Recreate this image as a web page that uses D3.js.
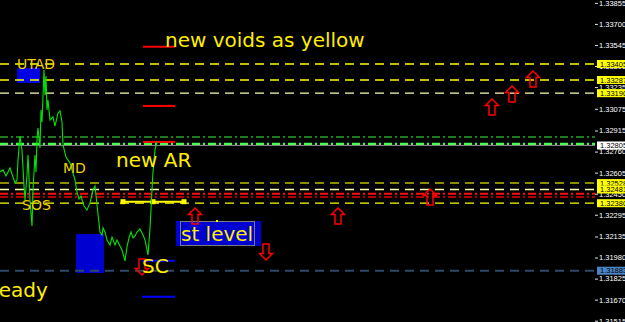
<!DOCTYPE html>
<html><head><meta charset="utf-8">
<script src="https://cdn.jsdelivr.net/npm/d3@7"></script>
<style>html,body{margin:0;padding:0;background:#000;overflow:hidden}</style>
</head><body><svg id="c" width="625" height="322"></svg>
<script>
// ---- data (bar index, price) ----
const bars = [0,3,6,8,10,13,15,17,18,20,22,24,25,27,28,30,32,33,35,36,37,38,40,41,42,44,45,46,47,48,50,53,55,58,60,62,63,66,70,72,75,77,79,81,84,87,90,93,95,97,100,102,103,105,107,110,112,115,117,119,122,125,127,129,131,133,135,137,140,143,145,148,150,151,152,153,155,157];
const closes = [1.32610,1.32625,1.32580,1.32610,1.32639,1.32573,1.32529,1.32551,1.32698,1.32875,1.32772,1.32507,1.32404,1.32588,1.32735,1.32404,1.32212,1.32477,1.32735,1.32610,1.32845,1.32934,1.32786,1.33066,1.32978,1.33361,1.33177,1.33317,1.33066,1.33140,1.32993,1.33015,1.32948,1.33044,1.33059,1.32978,1.32809,1.32720,1.32676,1.32625,1.32551,1.32463,1.32411,1.32433,1.32359,1.32330,1.32382,1.32477,1.32507,1.32367,1.32168,1.32146,1.32198,1.32168,1.32109,1.32072,1.32131,1.32072,1.32109,1.32080,1.32036,1.31955,1.32058,1.32124,1.32168,1.32124,1.32139,1.32168,1.32190,1.32146,1.32109,1.31999,1.32198,1.32330,1.32477,1.32610,1.32772,1.32831];

const tickValues = [1.33855,1.33700,1.33545,1.33390,1.33235,1.33075,1.32915,1.32760,1.32605,1.32450,1.32295,1.32135,1.31980,1.31825,1.31670,1.31515];

const levelPrices = [1.33405,1.33287,1.33190,1.32867,1.32816,1.32805,1.32528,1.32481,1.32450,1.32425,1.32380,1.31883];
const levelKinds  = ["yellow","yellow","paleyellow","darkgreen","green","gray","olive","paleyellow","red","darkred","yellow","slate"];

const tagPrices = [1.33405,1.33287,1.33190,1.32805,1.32528,1.32481,1.32380,1.31883];
const tagKinds  = ["yellow","yellow","yellow","white","yellow","yellow","yellow","blue"];

const redSegPrices = [1.33532,1.33096,1.32831];
const blueSegPrices = [1.31957,1.31692];
const segBars = [143,175];

const markerBars = [123,153,184];
const markerPrice = 1.32391;

const upArrowBars = [195,338,430,492,512,533];
const upArrowPrices = [1.32345,1.32345,1.32485,1.33147,1.33243,1.33353];
const downArrowBars = [266,142];
const downArrowPrices = [1.31962,1.31851];

const boxBars = [[17,40],[76,104],[176,261]];
const boxPrices = [[1.33376,1.33265],[1.32153,1.31866],[1.32249,1.32065]];

const labelTexts  = ["new voids as yellow","UTAD","new AR","MD","SOS","st level","SC","ready"];
const labelBars   = [165,17,116,63,22,181,142,-9];
const labelPrices = [1.33530,1.33368,1.32650,1.32602,1.32330,1.32102,1.31866,1.31690];
const labelBig    = [true,false,true,false,false,true,true,true];

// ---- scales ----
const W = 625, H = 322, plotW = 595;
const x = d3.scaleLinear().domain([0, 595]).range([0, plotW]);
const y = d3.scaleLinear().domain([1.31515, 1.33855]).range([320.7, 2.85]);

const svg = d3.select("#c");
svg.append("rect").attr("width",W).attr("height",H).attr("fill","#000");

const levelStyle = {
  yellow:{c:"#ffff00",w:1.3,d:"9,6"},
  paleyellow:{c:"#ffffb0",w:1.3,d:"9,6"},
  olive:{c:"#8c8c00",w:2,d:"9,6"},
  darkgreen:{c:"#1e7a1e",w:2,d:"8,3,2,3"},
  green:{c:"#44ff44",w:2.5,d:"8,3,2,3"},
  gray:{c:"#808080",w:1,d:null},
  red:{c:"#ff1010",w:2,d:"8,3,2,3"},
  darkred:{c:"#b00000",w:2,d:"8,3,2,3"},
  slate:{c:"#2e4a66",w:2,d:"9,6"}
};

// boxes (behind)
boxBars.forEach((b,i)=>{
  svg.append("rect").attr("x",x(b[0])).attr("y",y(boxPrices[i][0]))
    .attr("width",x(b[1])-x(b[0])).attr("height",y(boxPrices[i][1])-y(boxPrices[i][0]))
    .attr("fill", i===0 ? "#0000e6" : "#0000d0");
});
// inner border for st level box
{
  const b = boxBars[2], p = boxPrices[2];
  svg.append("rect").attr("x",x(b[0])+4.5).attr("y",y(p[0])+0.5)
    .attr("width",x(b[1])-x(b[0])-11).attr("height",y(p[1])-y(p[0])-1)
    .attr("fill","none").attr("stroke","#7a7a7a").attr("stroke-width",1);
}

// horizontal levels
levelPrices.forEach((p,i)=>{
  const s = levelStyle[levelKinds[i]];
  svg.append("line").attr("x1",0).attr("x2",plotW)
    .attr("y1",y(p)).attr("y2",y(p))
    .attr("stroke",s.c).attr("stroke-width",s.w)
    .attr("stroke-dasharray",s.d);
});

// short segments
redSegPrices.forEach(p=>{
  svg.append("line").attr("x1",x(segBars[0])).attr("x2",x(segBars[1]))
    .attr("y1",y(p)).attr("y2",y(p)).attr("stroke","#ff0000").attr("stroke-width",2);
});
blueSegPrices.forEach(p=>{
  svg.append("line").attr("x1",x(segBars[0]-1)).attr("x2",x(segBars[1]))
    .attr("y1",y(p)).attr("y2",y(p)).attr("stroke","#0000ff").attr("stroke-width",2);
});

// yellow segment with markers
svg.append("line").attr("x1",x(markerBars[0])).attr("x2",x(markerBars[2]))
  .attr("y1",y(markerPrice)).attr("y2",y(markerPrice)).attr("stroke","#ffff00").attr("stroke-width",2);
markerBars.forEach(b=>{
  svg.append("rect").attr("x",x(b)-2.5).attr("y",y(markerPrice)-2.5).attr("width",5).attr("height",5).attr("fill","#ffff00");
});

// price line
const line = d3.line().x((d,i)=>x(bars[i])).y(d=>y(d));
svg.append("path").datum(closes).attr("d",line).attr("fill","none")
  .attr("stroke","#00e600").attr("stroke-width",1.1);

// arrows
const upPath = "M0,0 L6.5,6.5 L3,6.5 L3,16 L-3,16 L-3,6.5 L-6.5,6.5 Z";
upArrowBars.forEach((b,i)=>{
  svg.append("path").attr("d",upPath)
    .attr("transform",`translate(${x(b)},${y(upArrowPrices[i])})`)
    .attr("fill","none").attr("stroke","#ff0000").attr("stroke-width",1.5);
});
downArrowBars.forEach((b,i)=>{
  svg.append("path").attr("d",upPath)
    .attr("transform",`translate(${x(b)},${y(downArrowPrices[i])}) scale(1,-1)`)
    .attr("fill","none").attr("stroke","#ff0000").attr("stroke-width",1.5);
});

// small dot
svg.append("rect").attr("x",x(216)).attr("y",y(1.32256)).attr("width",2).attr("height",2).attr("fill","#ffff00");

// labels
labelTexts.forEach((t,i)=>{
  svg.append("text").attr("x",x(labelBars[i])).attr("y",y(labelPrices[i]))
    .attr("fill", labelBig[i] ? "#ffee00" : "#f2d200")
    .attr("font-family","'DejaVu Sans', Verdana, sans-serif")
    .attr("font-size", labelBig[i] ? "20px" : "14px")
    .text(t);
});

// axis
const ax = svg.append("g").attr("transform",`translate(${plotW},0)`)
  .call(d3.axisRight(y).tickValues(tickValues).tickSize(3).tickPadding(1).tickFormat(d3.format(".5f")));
ax.select(".domain").remove();
ax.selectAll(".tick line").attr("stroke","#e0e0e0");
ax.selectAll(".tick text").attr("fill","#ffffff")
  .attr("font-family","'Liberation Sans', Arial, sans-serif").attr("font-size","7.5px");

// price tags
const tagStyle = {yellow:{bg:"#ffff00",fg:"#000"}, white:{bg:"#ffffff",fg:"#000"}, blue:{bg:"#4a84c4",fg:"#000"}};
tagPrices.forEach((p,i)=>{
  const s = tagStyle[tagKinds[i]];
  const g = svg.append("g").attr("transform",`translate(${plotW+2},${y(p)})`);
  g.append("rect").attr("x",0).attr("y",-4).attr("width",28).attr("height",8).attr("fill",s.bg);
  g.append("text").attr("x",3).attr("y",0).attr("dy","0.34em").attr("fill",s.fg)
    .attr("font-family","'Liberation Sans', Arial, sans-serif").attr("font-size","7.5px")
    .text(d3.format(".5f")(p));
});
</script></body></html>
